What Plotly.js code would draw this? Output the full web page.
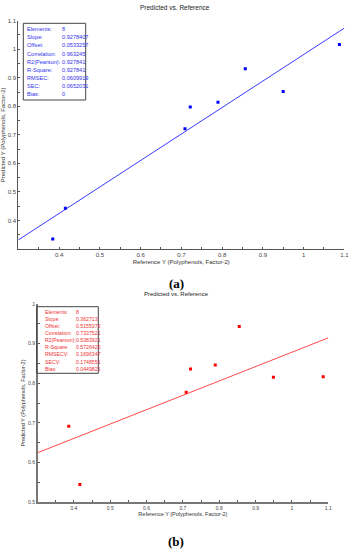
<!DOCTYPE html>
<html>
<head>
<meta charset="utf-8">
<script src="https://cdn.plot.ly/plotly-3.0.1.min.js"></script>
<style>html,body{margin:0;padding:0;background:#fff;}#chart{width:351px;height:550px;}</style>
</head>
<body>
<div id="chart"></div>
<script>
// ---- Data (a) calibration ----
const refA = [0.3845, 0.4155, 0.709, 0.722, 0.790, 0.857, 0.950, 1.088];
const predA = [0.335, 0.443, 0.721, 0.798, 0.814, 0.932, 0.852, 1.017];
const slopeA = 0.9278407;
const offsetA = 0.0533257;
const statLabelsA = ["Elements:", "Slope:", "Offset:", "Correlation:", "R2(Pearson):", "R-Square:", "RMSEC:", "SEC:", "Bias:"];
const statValuesA = ["8", "0.9278407", "0.0533257", "0.963245", "0.927841", "0.927841", "0.0609919", "0.0652031", "0"];

// ---- Data (b) validation ----
const refB = [0.386, 0.4165, 0.709, 0.721, 0.789, 0.855, 0.949, 1.086];
const predB = [0.691, 0.544, 0.777, 0.836, 0.846, 0.943, 0.815, 0.816];
const slopeB = 0.362713;
const offsetB = 0.5155372;
const statLabelsB = ["Elements:", "Slope:", "Offset:", "Correlation:", "R2(Pearson):", "R-Square:", "RMSECV:", "SECV:", "Bias:"];
const statValuesB = ["8", "0.362713", "0.5155372", "0.7337521", "0.5383921", "0.5726425", "0.1696347", "0.1748551", "0.0449821"];

// ---- Axis ticks ----
const xTicks = [0.4, 0.5, 0.6, 0.7, 0.8, 0.9, 1, 1.1];
const yTicksA = [0.4, 0.5, 0.6, 0.7, 0.8, 0.9, 1, 1.1];
const yTicksB = [0.5, 0.6, 0.7, 0.8, 0.9, 1];
const xRange = [0.3, 1.1];
const yRangeA = [0.3, 1.1];
const yRangeB = [0.5, 1.0];

const W = 351, H = 550;
const px = x => x / W;
const py = y => 1 - y / H;

const FONT = "Liberation Sans, Arial, sans-serif";
const BLUE = "#0000ff", RED = "#ff0000";

const lineX = xRange.slice();
const traces = [
  {x: lineX, y: lineX.map(v => slopeA * v + offsetA), mode: "lines", line: {color: "#3a3aff", width: 1}, xaxis: "x", yaxis: "y", hoverinfo: "skip"},
  {x: refA, y: predA, mode: "markers", marker: {symbol: "square", size: 3, color: BLUE}, xaxis: "x", yaxis: "y"},
  {x: lineX, y: lineX.map(v => slopeB * v + offsetB), mode: "lines", line: {color: "#ff4a4a", width: 1}, xaxis: "x2", yaxis: "y2", hoverinfo: "skip"},
  {x: refB, y: predB, mode: "markers", marker: {symbol: "square", size: 3, color: RED}, xaxis: "x2", yaxis: "y2"}
];

function axisCommon(extra) {
  return Object.assign({
    showgrid: false, zeroline: false, showline: true, linecolor: "#555", linewidth: 1,
    ticks: "inside", ticklen: 2, tickcolor: "#555", tickwidth: 1,
    tickfont: {family: FONT, size: 6, color: "#444"},
    minor: {dtick: 0.05, tick0: 0.3, ticks: "inside", ticklen: 2, tickcolor: "#555"},
    fixedrange: true, automargin: false
  }, extra);
}

const annotations = [];
function addText(x, y, text, size, color, xanchor, extra) {
  annotations.push(Object.assign({xref: "paper", yref: "paper", x: px(x), y: py(y), text: text, showarrow: false,
    xanchor: xanchor || "center", yanchor: "middle", font: {family: FONT, size: size, color: color}}, extra || {}));
}
// titles
addText(175, 7.5, "Predicted vs. Reference", 6.5, "#222");
addText(176, 294, "Predicted vs. Reference", 6, "#222");
// panel labels
addText(176, 283, "<b>(a)</b>", 13, "#000", "center", {font: {family: "Liberation Serif, Times New Roman, serif", size: 13, color: "#000"}});
addText(176, 541, "<b>(b)</b>", 13, "#000", "center", {font: {family: "Liberation Serif, Times New Roman, serif", size: 13, color: "#000"}});
// stats (a)
statLabelsA.forEach((t, i) => {
  addText(24.5, 29.2 + i * 8.1, t, 5.6, "#3333ee", "left");
  addText(59.5, 29.2 + i * 8.1, statValuesA[i], 5.6, "#3333ee", "left");
});
// stats (b)
statLabelsB.forEach((t, i) => {
  addText(42.5, 311.7 + i * 7.12, t, 5.2, "#ee3333", "left");
  addText(74.3, 311.7 + i * 7.12, statValuesB[i], 5.2, "#ee3333", "left");
});

const shapes = [
  {type: "rect", xref: "paper", yref: "paper", x0: px(23.3), x1: px(85.7), y0: py(23.3), y1: py(100), line: {color: "#444", width: 1}, fillcolor: "rgba(255,255,255,0)"},
  {type: "rect", xref: "paper", yref: "paper", x0: px(36.7), x1: px(98.3), y0: py(306.7), y1: py(373.3), line: {color: "#444", width: 1}, fillcolor: "rgba(255,255,255,0)"}
];

const layout = {
  width: W, height: H,
  margin: {l: 0, r: 0, t: 0, b: 0},
  paper_bgcolor: "#fff", plot_bgcolor: "#fff",
  showlegend: false,
  xaxis: axisCommon({domain: [px(18.3), px(344.3)], range: xRange, tickvals: xTicks, anchor: "y",
    title: {text: "Reference Y (Polyphenols, Factor-2)", font: {family: FONT, size: 6, color: "#333"}, standoff: 2}}),
  yaxis: axisCommon({domain: [py(249), py(20.7)], range: yRangeA, tickvals: yTicksA, anchor: "x",
    title: {text: "Predicted Y (Polyphenols, Factor-2)", font: {family: FONT, size: 6, color: "#333"}, standoff: 2}}),
  xaxis2: axisCommon({domain: [px(37.5), px(328.3)], range: xRange, tickvals: xTicks, anchor: "y2", linecolor: "#777", linewidth: 1.5,
    tickfont: {family: FONT, size: 5, color: "#444"},
    title: {text: "Reference Y (Polyphenols, Factor-2)", font: {family: FONT, size: 5.5, color: "#333"}, standoff: 2}}),
  yaxis2: axisCommon({domain: [py(502), py(304)], range: yRangeB, tickvals: yTicksB, anchor: "x2", linecolor: "#777", linewidth: 1.5,
    tickfont: {family: FONT, size: 5, color: "#444"},
    title: {text: "Predicted Y (Polyphenols, Factor-2)", font: {family: FONT, size: 5.5, color: "#333"}, standoff: 2}}),
  annotations: annotations,
  shapes: shapes
};

Plotly.newPlot("chart", traces, layout, {displayModeBar: false, staticPlot: true});
</script>
</body>
</html>
